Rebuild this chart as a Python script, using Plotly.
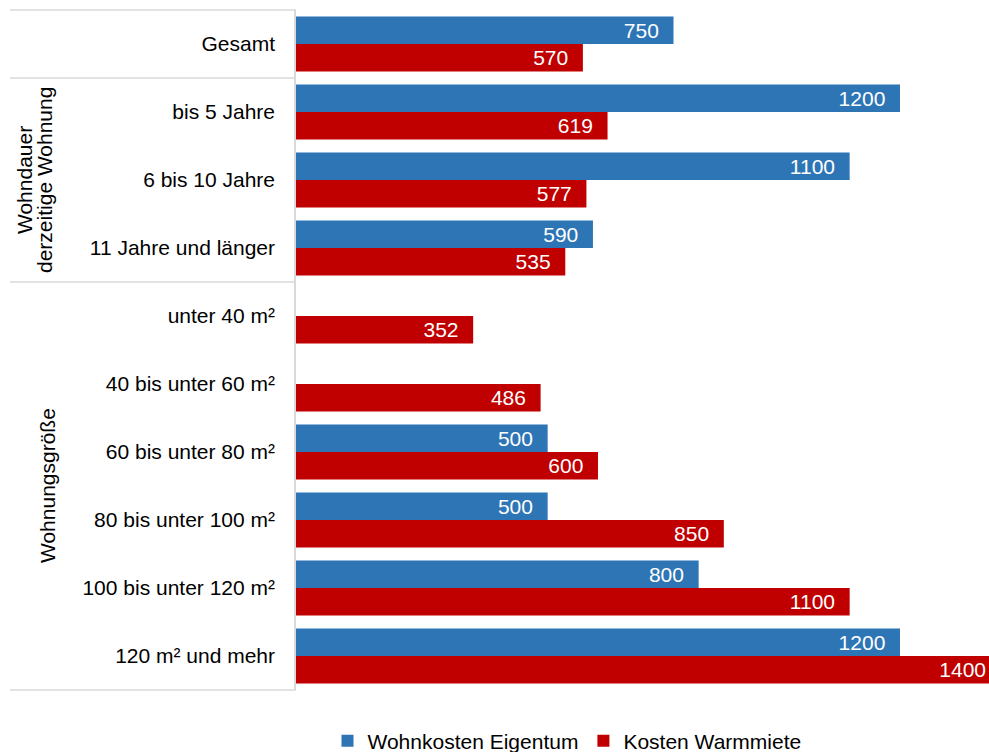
import plotly.graph_objects as go

categories = ["Gesamt", "bis 5 Jahre", "6 bis 10 Jahre", "11 Jahre und länger",
              "unter 40 m²", "40 bis unter 60 m²", "60 bis unter 80 m²",
              "80 bis unter 100 m²", "100 bis unter 120 m²", "120 m² und mehr"]
eigentum = [750, 1200, 1100, 590, None, None, 500, 500, 800, 1200]
warmmiete = [570, 619, 577, 535, 352, 486, 600, 850, 1100, 1400]
series_names = ["Wohnkosten Eigentum", "Kosten Warmmiete"]
group_labels = [["Wohndauer", "derzeitige Wohnung"], ["Wohnungsgröße"]]

BLUE = "#2E75B6"
RED = "#C00000"
FONT = "Liberation Sans, Arial, sans-serif"
FS = 21
FIG_W = 1001        # slightly wider than the window: the longest bar runs past the edge
L = 296             # plot-area left edge in page pixels
W = FIG_W - L       # plot-area width

def px(x):
    return (x - L) / W

fig = go.Figure()
for name, vals, col in [(series_names[0], eigentum, BLUE), (series_names[1], warmmiete, RED)]:
    fig.add_trace(go.Bar(
        y=categories, x=vals, name=name, orientation="h",
        marker=dict(color=col, line=dict(width=0)),
        texttemplate="%{x}\u00a0\u00a0", textposition="inside",
        insidetextanchor="end", constraintext="none",
        textfont=dict(color="white", size=FS, family=FONT),
        cliponaxis=False,
    ))

fig.update_layout(
    width=FIG_W, height=752,
    margin=dict(l=L, r=0, t=10, b=752 - 690, autoexpand=False),
    paper_bgcolor="white", plot_bgcolor="white",
    barmode="group", bargap=0.19, bargroupgap=0,
    font=dict(family=FONT, size=FS, color="#000000"),
    xaxis=dict(range=[0, 1400.7], showgrid=False, zeroline=False, showticklabels=False,
               showline=False, fixedrange=True, automargin=False),
    yaxis=dict(autorange="reversed", showgrid=False, zeroline=False,
               showline=True, linecolor="#D9D9D9", linewidth=1.5,
               ticks="", ticklabelstandoff=15, automargin=False, fixedrange=True,
               tickfont=dict(size=FS, family=FONT, color="#000000")),
    legend=dict(orientation="h", x=px(567), xanchor="center", y=-0.045, yanchor="top",
                font=dict(size=FS, family=FONT), traceorder="normal",
                itemwidth=30, itemsizing="constant"),
    showlegend=True,
)

# separator lines in the label area
for yp in [1.0, 0.9, 0.6, 0.0]:
    fig.add_shape(type="line", xref="paper", yref="paper",
                  x0=px(10), x1=0, y0=yp, y1=yp,
                  line=dict(color="#D9D9D9", width=1.5))

# group labels
for line, xc in zip(group_labels[0], [24, 44]):
    fig.add_annotation(text=line, xref="paper", yref="paper",
                       x=px(xc), y=0.75, textangle=-90, showarrow=False,
                       xanchor="center", yanchor="middle",
                       font=dict(size=FS, family=FONT, color="#000000"))
fig.add_annotation(text=group_labels[1][0], xref="paper", yref="paper",
                   x=px(48), y=0.3, textangle=-90, showarrow=False,
                   xanchor="center", yanchor="middle",
                   font=dict(size=FS, family=FONT, color="#000000"))

fig.write_html(
    "out.html",
    config={"displayModeBar": False},
    post_script="document.body.style.margin='0';document.body.style.overflow='hidden';",
)
